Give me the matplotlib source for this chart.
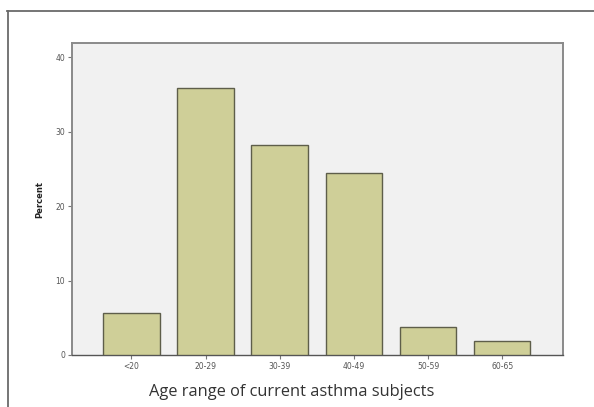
import matplotlib
matplotlib.use("Agg")
import matplotlib.pyplot as plt
from matplotlib.lines import Line2D

categories = ["<20", "20-29", "30-39", "40-49", "50-59", "60-65"]
percent = [5.6, 35.9, 28.2, 24.4, 3.8, 1.9]
yticks = [0, 10, 20, 30, 40]

fig = plt.figure(figsize=(5.94, 4.07), dpi=100)
fig.patch.set_facecolor("white")

# outer frame lines (top and left)
fig.add_artist(Line2D([7/594, 1.0], [1 - 11/407, 1 - 11/407], color="#6a6a6a", lw=1.3, transform=fig.transFigure))
fig.add_artist(Line2D([8/594, 8/594], [1 - 11/407, 0.0], color="#6a6a6a", lw=1.3, transform=fig.transFigure))

ax = fig.add_axes([72/594, 1 - 355/407, (563 - 72)/594, (355 - 43)/407])
ax.set_facecolor("#f1f1f1")
x = list(range(len(categories)))
ax.bar(x, percent, width=0.76, color="#cfcf98", edgecolor="#5e5e4a", linewidth=1.0, zorder=3)
ax.set_xlim(-0.8, len(categories) - 1 + 0.82)
ax.set_ylim(0, 41.9)
ax.set_xticks(x)
ax.set_xticklabels(categories, fontsize=5.5, color="#555555")
ax.set_yticks(yticks)
ax.set_yticklabels([str(v) for v in yticks], fontsize=5.5, color="#555555")
ax.tick_params(axis="both", length=3, width=0.8, color="#777777", pad=2)
for s in ["top", "right", "left"]:
    ax.spines[s].set_color("#8a8a8a")
    ax.spines[s].set_linewidth(1.4)
ax.spines["bottom"].set_color("#555555")
ax.spines["bottom"].set_linewidth(1.0)
ax.set_ylabel("Percent", fontsize=6, fontweight="bold", color="#222222", labelpad=8)

t = fig.text(292/594, 1 - 392/407, "Age range of current asthma subjects", ha="center", va="center",
             fontsize=11, family="Open Sans", color="#333333")
fig.canvas.draw()
w = t.get_window_extent().width
t.set_fontsize(11 * 285 / w)

fig.savefig("out.png", dpi=100, facecolor="white")
